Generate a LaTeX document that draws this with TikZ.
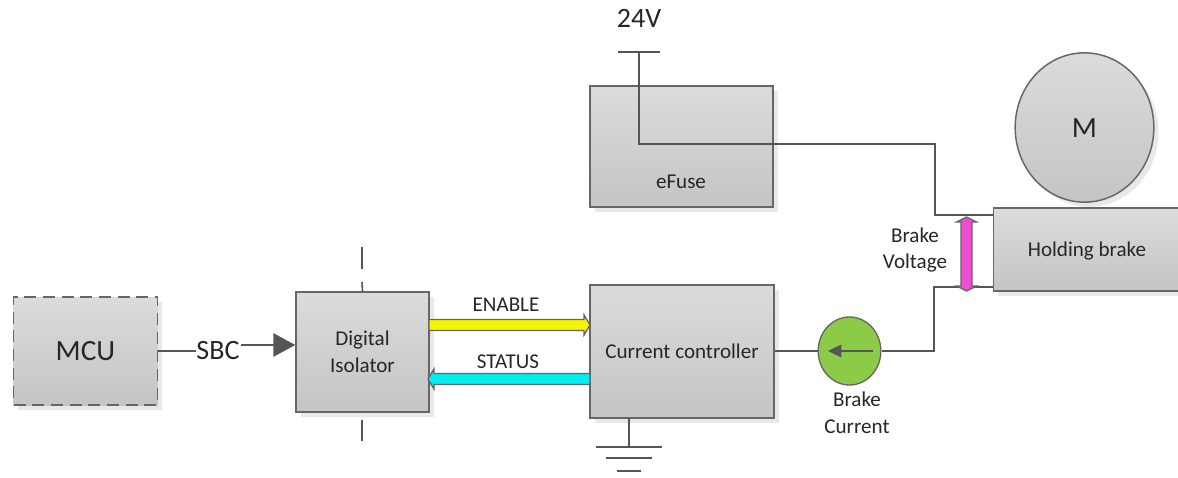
\documentclass[tikz,border=0pt]{standalone}
\usepackage{fontspec}
\setmainfont{Carlito}
\usetikzlibrary{arrows.meta,shadows,calc,shapes.geometric}
\definecolor{wire}{HTML}{555555}
\definecolor{edgec}{HTML}{666666}
\definecolor{txt}{HTML}{262626}
\definecolor{sigyellow}{HTML}{F5F500}
\definecolor{sigcyan}{HTML}{00EEF0}
\definecolor{sigpink}{HTML}{EE4FD0}
\definecolor{gaugegreen}{HTML}{8CCB48}
\tikzset{
  x=0.75pt,y=-0.75pt,
  softshadow/.style={drop shadow={shadow xshift=3.5pt,shadow yshift=-3.5pt,fill=black,opacity=.09}},
  blockbox/.style={draw=edgec,line width=1.1pt,top color=black!14,bottom color=black!23,
     softshadow,inner sep=0pt,text=txt,align=center,font=\fontsize{15.8}{20.5}\selectfont},
  dashedbox/.style={blockbox,dash pattern=on 9pt off 5pt},
  wireline/.style={draw=wire,line width=1.6pt},
  label/.style={text=txt,align=center,inner sep=0pt,font=\fontsize{15.8}{20}\selectfont},
  biglabel/.style={label,font=\fontsize{21}{24}\selectfont},
  fatarrow/.style={draw=edgec,line width=1pt,line join=miter},
}
\begin{document}
\begin{tikzpicture}
\useasboundingbox (0,0) rectangle (1178,478);
\clip (0,0) rectangle (1178,478);
% blocks
\node[dashedbox,minimum width=108pt,minimum height=81pt,font=\fontsize{22}{24}\selectfont] (mcu) at (85.5,351) {MCU};
\node[blockbox,minimum width=99.75pt,minimum height=90pt] (iso) at (362.5,352) {Digital\\Isolator};
\node[blockbox,minimum width=138pt,minimum height=99.75pt] (ctrl) at (682,351.5) {Current controller};
\node[blockbox,minimum width=137.25pt,minimum height=90.75pt] (fuse) at (681.5,146.5) {};
\node[label] (fusetext) at (681,182) {eFuse};
\node[blockbox,minimum width=140pt,minimum height=62.25pt,anchor=west] (brake) at (993,249.5) {};
\node[label] (braketext) at (1087,250.5) {Holding brake};
\node[draw=edgec,line width=1.1pt,ellipse,minimum width=104pt,minimum height=112pt,inner sep=0pt,
  top color=black!14,bottom color=black!23,softshadow] (motor) at (1084.5,127.5) {};
\node[label,font=\fontsize{22}{24}\selectfont] (motortext) at (1084.5,128.5) {M};
\node[draw=edgec,line width=1pt,ellipse,minimum width=47pt,minimum height=51pt,inner sep=0pt,fill=gaugegreen] (gauge) at (849.5,351) {};
% labels
\node[biglabel] (sbc) at (218,351) {SBC};
\node[biglabel] (v24) at (639,18) {24V};
\node[label] (enable) at (506,305) {ENABLE};
\node[label] (status) at (508,362) {STATUS};
\node[label] (bv) at (915,250) {Brake\\Voltage};
\node[label] (bc) at (857,412.5) {Brake\\Current};
% helper points
\coordinate (isoTop1) at (362,247);
\coordinate (isoTop2) at (362,269);
\coordinate (isoTop3) at (362,282);
\coordinate (isoBot1) at (362,420);
\coordinate (isoBot2) at (362,441);
\coordinate (vbarL) at (618,52);
\coordinate (vbarR) at (660,52);
\coordinate (vbarM) at (639,52);
\coordinate (fuseTurn) at (639,144);
\coordinate (fuseExit) at (775,144);
\coordinate (wireTop) at (935,144);
\coordinate (wireHi) at (935,215);
\coordinate (brakeHi) at (993,215);
\coordinate (wireMid) at (934,351);
\coordinate (wireLo) at (934,287);
\coordinate (brakeLo) at (993,287);
\coordinate (gndTop) at (629,418);
\coordinate (gndM) at (629,447);
\coordinate (gnd1L) at (596,447);
\coordinate (gnd1R) at (662,447);
\coordinate (gnd2L) at (606,458);
\coordinate (gnd2R) at (652,458);
\coordinate (gnd3L) at (617,471);
\coordinate (gnd3R) at (641,471);
\coordinate (gaugeA) at (873,351);
\coordinate (gaugeB) at (828,351);
% isolation barrier
\draw[wireline,line width=1.2pt] (isoTop1) -- (isoTop2);
\draw[wireline,line width=1.2pt] (isoTop3) -- (iso.north);
\draw[wireline,line width=1.2pt] (isoBot1) -- (isoBot2);
% wires
\draw[wireline] (mcu.east) -- (sbc.west);
\draw[wireline,-{Triangle[width=17.5pt,length=16.5pt]},wire] ($(sbc.east)+(1,-6)$) -- ($(iso.west)+(0,-7)$);
\draw[wireline] (vbarL) -- (vbarR);
\draw[wireline] (vbarM) -- (fuseTurn) -- (wireTop) -- (wireHi) -- (brakeHi);
\draw[wireline,line width=2.2pt] (fuseTurn) -- (fuseExit);
\draw[wireline] (ctrl.east |- gauge.west) -- (gauge.west);
\draw[wireline] (gauge.east) -- (wireMid) -- (wireLo) -- (brakeLo);
\draw[wireline,line width=1.1pt] (gndTop) -- (gndM);
\draw[wireline] (gnd1L) -- (gnd1R);
\draw[wireline] (gnd2L) -- (gnd2R);
\draw[wireline] (gnd3L) -- (gnd3R);
\draw[draw=wire,line width=.9pt,-{Triangle[width=9.5pt,length=10pt]},wire] (gaugeA) -- (gaugeB);
% fat arrows
\coordinate (enA) at (429,325);
\coordinate (enB) at (590,325);
\coordinate (stA) at (590,379);
\coordinate (stB) at (428,379);
\coordinate (pvA) at (966.5,217);
\coordinate (pvB) at (966.5,291);
\draw[fatarrow,fill=sigyellow] (enA) ++(0,-5.5) -- ($(enB)+(-6,-5.5)$) -- ($(enB)+(-6,-10)$) -- (enB) -- ($(enB)+(-6,10)$) -- ($(enB)+(-6,5.5)$) -- ($(enA)+(0,5.5)$) -- cycle;
\draw[fatarrow,fill=sigcyan] (stA) ++(0,-5.5) -- ($(stB)+(6,-5.5)$) -- ($(stB)+(6,-10)$) -- (stB) -- ($(stB)+(6,10)$) -- ($(stB)+(6,5.5)$) -- ($(stA)+(0,5.5)$) -- cycle;
\draw[fatarrow,fill=sigpink] (pvA) -- ($(pvA)+(10,5)$) -- ($(pvA)+(5.5,5)$) -- ($(pvB)+(5.5,-5)$) -- ($(pvB)+(10,-5)$) -- (pvB) -- ($(pvB)+(-10,-5)$) -- ($(pvB)+(-5.5,-5)$) -- ($(pvA)+(-5.5,5)$) -- ($(pvA)+(-10,5)$) -- cycle;
\end{tikzpicture}
\end{document}
